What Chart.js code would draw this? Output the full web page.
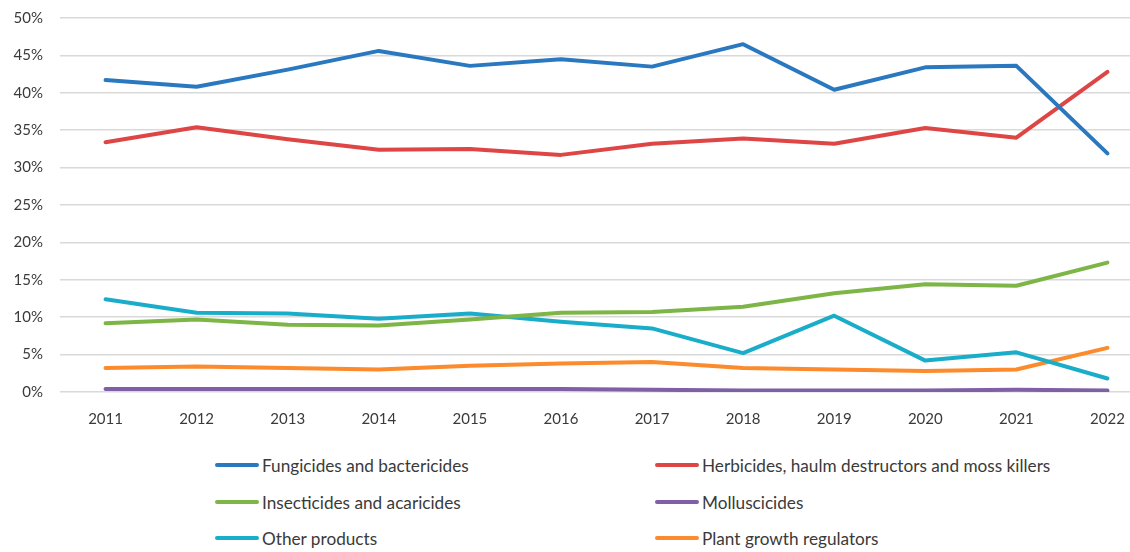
<!DOCTYPE html>
<html>
<head>
<meta charset="utf-8">
<script src="https://cdn.jsdelivr.net/npm/chart.js@4/dist/chart.umd.min.js"></script>
<style>
  html, body { margin: 0; padding: 0; background: #fff; overflow: hidden; }
  body { width: 1130px; height: 552px; position: relative; font-family: Lato, "Open Sans", sans-serif; }
  #wrap { position: absolute; left: 0; top: -8px; width: 1153px; height: 454px; }
  #legend { position: absolute; left: 0; top: 448px; width: 1130px; }
  .item { position: absolute; display: flex; align-items: center; font-size: 17.2px; color: #3a3a3a; white-space: nowrap; }
  .item span.swatch { display: inline-block; width: 44px; height: 4px; border-radius: 2px; margin-right: 3px; }
</style>
</head>
<body>
<div id="wrap"><canvas id="chart"></canvas></div>
<div id="legend"></div>
<script>
// pesticide sales share by product group, 2011-2022 (%)
const years = ['2011', '2012', '2013', '2014', '2015', '2016', '2017', '2018', '2019', '2020', '2021', '2022'];

const fungicides   = [41.7, 40.8, 43.1, 45.6, 43.6, 44.5, 43.5, 46.5, 40.4, 43.4, 43.6, 31.9];
const herbicides   = [33.4, 35.4, 33.8, 32.4, 32.5, 31.7, 33.2, 33.9, 33.2, 35.3, 34.0, 42.8];
const insecticides = [9.2, 9.7, 9.0, 8.9, 9.7, 10.6, 10.7, 11.4, 13.2, 14.4, 14.2, 17.3];
const molluscicides = [0.4, 0.4, 0.4, 0.4, 0.4, 0.4, 0.3, 0.2, 0.2, 0.2, 0.3, 0.2];
const otherProducts = [12.4, 10.6, 10.5, 9.8, 10.5, 9.4, 8.5, 5.2, 10.2, 4.2, 5.3, 1.8];
const growthRegulators = [3.2, 3.4, 3.2, 3.0, 3.5, 3.8, 4.0, 3.2, 3.0, 2.8, 3.0, 5.9];

const yTicks = [0, 5, 10, 15, 20, 25, 30, 35, 40, 45, 50];

const series = [
  { label: 'Fungicides and bactericides', data: fungicides, color: '#2a78bf' },
  { label: 'Herbicides, haulm destructors and moss killers', data: herbicides, color: '#de4545' },
  { label: 'Insecticides and acaricides', data: insecticides, color: '#7db546' },
  { label: 'Molluscicides', data: molluscicides, color: '#7f5fa6' },
  { label: 'Other products', data: otherProducts, color: '#1aadc9' },
  { label: 'Plant growth regulators', data: growthRegulators, color: '#fb8b2c' }
];

new Chart(document.getElementById('chart'), {
  type: 'line',
  data: {
    labels: years,
    datasets: series.map(s => ({
      label: s.label,
      data: s.data,
      borderColor: s.color,
      backgroundColor: s.color,
      borderWidth: 4,
      pointRadius: 0,
      tension: 0,
      borderCapStyle: 'round',
      borderJoinStyle: 'round'
    }))
  },
  options: {
    responsive: true,
    maintainAspectRatio: false,
    animation: false,
    layout: { padding: { top: 1, right: 0, left: 0, bottom: 0 } },
    plugins: {
      legend: { display: false },
      tooltip: { enabled: false }
    },
    scales: {
      x: {
        offset: true,
        grid: { display: false, drawTicks: false },
        border: { display: false },
        ticks: {
          padding: 18,
          color: '#3a3a3a',
          font: { family: 'Lato', size: 15 },
          maxRotation: 0
        }
      },
      y: {
        min: 0,
        max: 50,
        afterBuildTicks: axis => {
          axis.ticks = yTicks.map(v => ({ value: v }));
        },
        afterFit: axis => { axis.width = 60; },
        grid: { color: '#d9d9d9', lineWidth: 1.5, drawTicks: false },
        border: { display: false },
        ticks: {
          padding: 17,
          color: '#3a3a3a',
          font: { family: 'Lato', size: 15 },
          callback: v => v + '%'
        }
      }
    }
  }
});

// two-column legend under the plot
const legend = document.getElementById('legend');
const cols = [215, 655];
const rows = [17, 54, 90];
series.forEach((s, i) => {
  const item = document.createElement('div');
  item.className = 'item';
  item.style.left = cols[i % 2] + 'px';
  item.style.top = (rows[Math.floor(i / 2)] - 10) + 'px';
  item.style.height = '20px';
  item.innerHTML = `<span class="swatch" style="background:${s.color}"></span>${s.label}`;
  legend.appendChild(item);
});
</script>
</body>
</html>
